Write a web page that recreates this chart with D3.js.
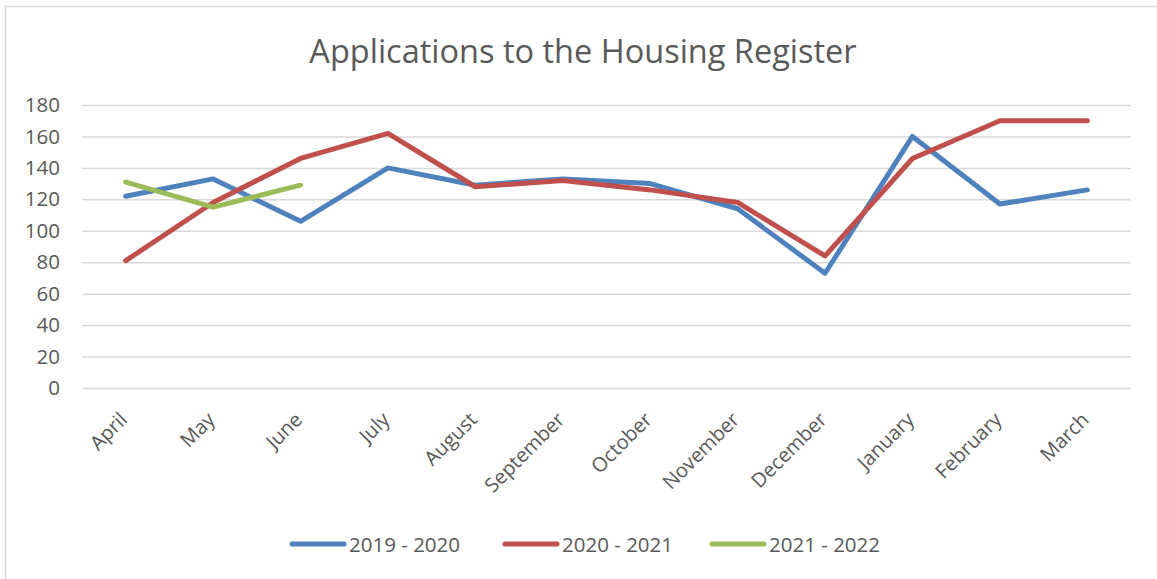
<!DOCTYPE html>
<html>
<head>
<meta charset="utf-8">
<script src="https://cdn.jsdelivr.net/npm/d3@7/dist/d3.min.js"></script>
<style>
  body { margin: 0; background: #fff; }
  text { font-family: "Open Sans", sans-serif; fill: #595959; }
</style>
</head>
<body>
<svg id="chart" width="1157" height="579"></svg>
<script>
// months of the year (April - March)
const months = ["April", "May", "June", "July", "August", "September",
  "October", "November", "December", "January", "February", "March"];
const seriesNames = ["2019 - 2020", "2020 - 2021", "2021 - 2022"];
const apps1920 = [122, 133, 106, 140, 129, 133, 130, 114, 73, 160, 117, 126];
const apps2021 = [81, 118, 146, 162, 128, 132, 126, 118, 84, 146, 170, 170];
const apps2122 = [131, 115, 129];
const yTicks = [0, 20, 40, 60, 80, 100, 120, 140, 160, 180];
const colors = ["#4F81BD", "#C0504D", "#9BBB59"];

const svg = d3.select("#chart");
const margin = { top: 105, left: 82, right: 26, bottom: 191 };
const width = 1157 - margin.left - margin.right;
const height = 579 - margin.top - margin.bottom;

// outer chart border
svg.append("rect")
  .attr("x", 5.5).attr("y", 6.5)
  .attr("width", 1170).attr("height", 600)
  .attr("fill", "none").attr("stroke", "#d9d9d9").attr("stroke-width", 1.5);

svg.append("text")
  .attr("x", 583).attr("y", 63)
  .attr("text-anchor", "middle")
  .style("font-size", "32.5px")
  .text("Applications to the Housing Register");

const g = svg.append("g").attr("transform", `translate(${margin.left},${margin.top})`);

const x = d3.scaleBand().domain(months).range([0, width]);
const y = d3.scaleLinear().domain([0, 180]).range([height, 0]);

// gridlines
g.append("g")
  .call(d3.axisLeft(y).tickValues(yTicks).tickSize(-width).tickFormat(""))
  .call(a => a.select(".domain").remove())
  .call(a => a.selectAll("line").attr("stroke", "#d9d9d9").attr("stroke-width", 1.5));

// y labels
g.append("g")
  .call(d3.axisLeft(y).tickValues(yTicks).tickSize(0).tickPadding(22))
  .call(a => a.select(".domain").remove())
  .call(a => a.selectAll("text").style("font-size", "20.5px").attr("fill", "#595959"));

// x labels, rotated
g.append("g")
  .attr("transform", `translate(0,${height})`)
  .call(d3.axisBottom(x).tickSize(0))
  .call(a => a.select(".domain").remove())
  .call(a => a.selectAll("text")
    .style("font-size", "20px")
    .attr("fill", "#595959")
    .attr("text-anchor", "end")
    .attr("dy", "0.35em")
    .attr("transform", "translate(-2,28) rotate(-45)")
    .attr("y", 0).attr("x", 0));

const series = [apps1920, apps2021, apps2122];
const line = d3.line()
  .x((d, i) => x(months[i]) + x.bandwidth() / 2)
  .y(d => y(d));

series.forEach((s, i) => {
  g.append("path")
    .datum(s)
    .attr("d", line)
    .attr("fill", "none")
    .attr("stroke", colors[i])
    .attr("stroke-width", 5)
    .attr("stroke-linejoin", "round")
    .attr("stroke-linecap", "round");
});

// legend
const legendX = [290, 503, 710];
const legend = svg.append("g");
seriesNames.forEach((name, i) => {
  legend.append("line")
    .attr("x1", legendX[i] + 2).attr("x2", legendX[i] + 54)
    .attr("y1", 544).attr("y2", 544)
    .attr("stroke", colors[i]).attr("stroke-width", 5)
    .attr("stroke-linecap", "round");
  legend.append("text")
    .attr("x", legendX[i] + 59).attr("y", 551.5)
    .style("font-size", "20.5px")
    .text(name);
});
</script>
</body>
</html>
